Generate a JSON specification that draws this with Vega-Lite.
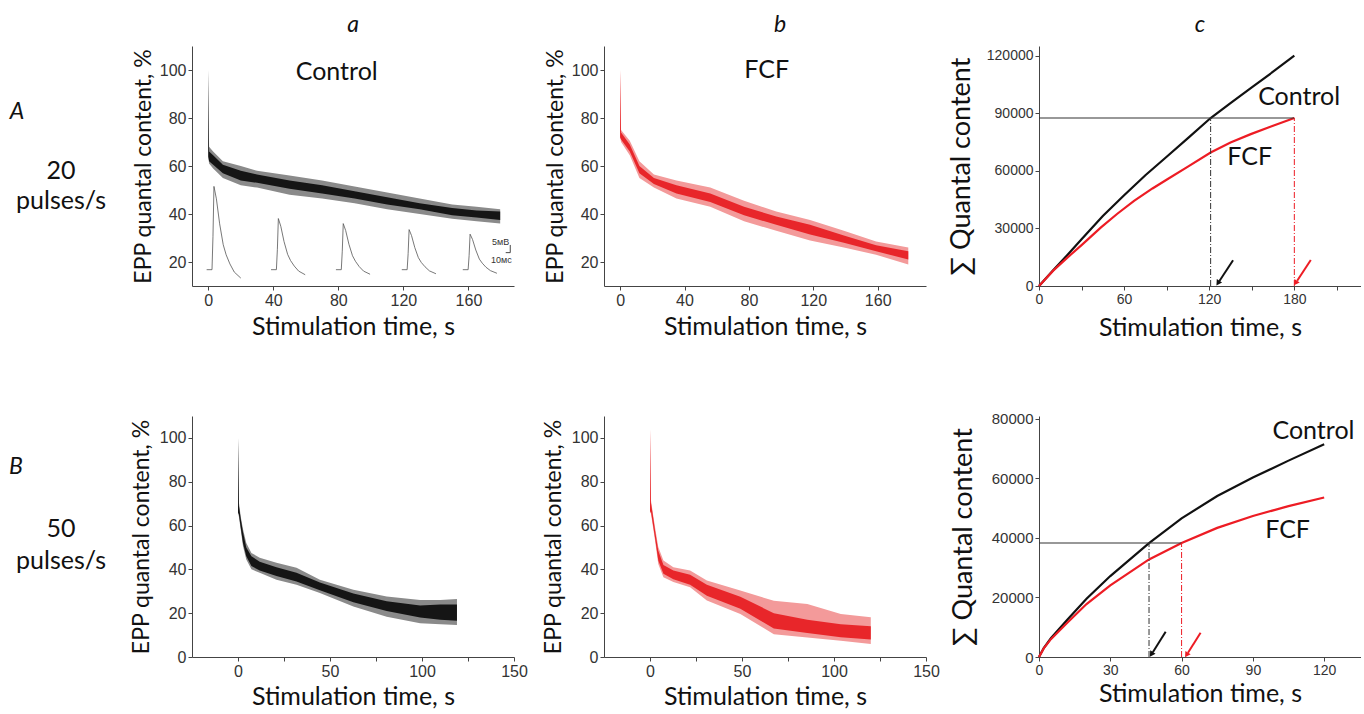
{
"$schema":"https://vega.github.io/schema/vega-lite/v6.json",
"padding":{"left":0,"top":14,"right":0,"bottom":0},
"config":{
 "font":"Lato",
 "view":{"stroke":null},
 "axis":{"domainColor":"#444444","tickColor":"#444444","labelColor":"#333333","labelFont":"Liberation Sans","labelFontSize":16,"titleFont":"Lato","titleFontWeight":"normal","titleColor":"#111111","grid":false,"tickSize":4,"labelPadding":2,"labelFlush":false,"labelOverlap":false},
 "title":{"font":"Lato","fontSize":23,"fontStyle":"italic","fontWeight":"normal","color":"#111111","anchor":"middle","frame":"group","offset":9}
},
"datasets":{
 "aa":[
  {"t":0,"lo":64,"hi":100,"clo":64,"chi":100},
  {"t":0.5,"lo":61,"hi":68,"clo":62,"chi":66},
  {"t":3,"lo":59,"hi":66,"clo":60.5,"chi":64.5},
  {"t":9,"lo":55,"hi":62,"clo":57,"chi":60.5},
  {"t":20,"lo":52,"hi":60,"clo":54,"chi":58},
  {"t":30,"lo":51,"hi":58,"clo":53,"chi":56.5},
  {"t":50,"lo":48,"hi":56,"clo":50.5,"chi":54},
  {"t":70,"lo":46.5,"hi":54,"clo":48.5,"chi":52},
  {"t":90,"lo":44.5,"hi":51.5,"clo":46.5,"chi":49.5},
  {"t":110,"lo":42,"hi":49,"clo":44,"chi":47},
  {"t":130,"lo":40,"hi":46.5,"clo":42,"chi":44.5},
  {"t":150,"lo":38,"hi":44,"clo":39.5,"chi":42.5},
  {"t":165,"lo":37,"hi":43,"clo":38.5,"chi":41.5},
  {"t":179.5,"lo":36,"hi":42,"clo":37.5,"chi":41}
 ],
 "ab":[
  {"t":0,"lo":72,"hi":100,"clo":72,"chi":100},
  {"t":0.6,"lo":70,"hi":75,"clo":71,"chi":74},
  {"t":6,"lo":64.5,"hi":70.5,"clo":66,"chi":69},
  {"t":12,"lo":55,"hi":62,"clo":57,"chi":60},
  {"t":21,"lo":51,"hi":56.5,"clo":52.5,"chi":55},
  {"t":35,"lo":46.5,"hi":54,"clo":48.5,"chi":52},
  {"t":56,"lo":43,"hi":51,"clo":45,"chi":48.5},
  {"t":77,"lo":37,"hi":45.5,"clo":39.5,"chi":43},
  {"t":97,"lo":33,"hi":41,"clo":35.5,"chi":39},
  {"t":118,"lo":29,"hi":37.5,"clo":31.5,"chi":35.5},
  {"t":139,"lo":26,"hi":33,"clo":28,"chi":31},
  {"t":159,"lo":23,"hi":28.5,"clo":24.5,"chi":27},
  {"t":179,"lo":19,"hi":26,"clo":21,"chi":24.5}
 ],
 "ba":[
  {"t":0,"lo":66,"hi":100,"clo":66,"chi":100},
  {"t":0.5,"lo":64,"hi":70.5,"clo":65,"chi":69},
  {"t":1.5,"lo":58,"hi":64,"clo":59,"chi":63},
  {"t":2.7,"lo":50.7,"hi":58.4,"clo":52,"chi":57},
  {"t":4.5,"lo":44.5,"hi":52,"clo":46,"chi":50},
  {"t":7.3,"lo":40,"hi":47.5,"clo":41.5,"chi":46},
  {"t":11.8,"lo":38.4,"hi":45.3,"clo":39.5,"chi":43.5},
  {"t":20.9,"lo":35.3,"hi":43,"clo":37,"chi":41},
  {"t":31.8,"lo":33,"hi":40.7,"clo":34.5,"chi":38.5},
  {"t":44.5,"lo":29.2,"hi":35.3,"clo":30.5,"chi":34},
  {"t":62.7,"lo":23,"hi":30.7,"clo":25,"chi":29},
  {"t":80.8,"lo":18.4,"hi":27.6,"clo":21,"chi":25.5},
  {"t":99,"lo":15.4,"hi":26,"clo":18,"chi":23.5},
  {"t":110,"lo":15,"hi":26,"clo":17,"chi":24},
  {"t":119,"lo":14.6,"hi":26.5,"clo":16.5,"chi":24}
 ],
 "bb":[
  {"t":0,"lo":66,"hi":104,"clo":66,"chi":104},
  {"t":0.5,"lo":65.5,"hi":71.7,"clo":66.5,"chi":70.5},
  {"t":1.5,"lo":60,"hi":66,"clo":61,"chi":65},
  {"t":2.7,"lo":53.3,"hi":59.4,"clo":54.5,"chi":58},
  {"t":4.5,"lo":42.5,"hi":50.2,"clo":44,"chi":48.5},
  {"t":7.3,"lo":36.4,"hi":44.1,"clo":38,"chi":42},
  {"t":12.7,"lo":34.2,"hi":41,"clo":35.5,"chi":39.5},
  {"t":21.8,"lo":31.8,"hi":39.5,"clo":33,"chi":37.5},
  {"t":30.9,"lo":25.8,"hi":34.9,"clo":28,"chi":33},
  {"t":49.1,"lo":19.6,"hi":30.3,"clo":22,"chi":27.5},
  {"t":67.3,"lo":10.4,"hi":25.7,"clo":13,"chi":20},
  {"t":85.5,"lo":8.9,"hi":24.2,"clo":11,"chi":17},
  {"t":103.7,"lo":7.4,"hi":19.6,"clo":9,"chi":15},
  {"t":120,"lo":5.9,"hi":18.1,"clo":8,"chi":14}
 ],
 "epp":[
  {"k":1,"t":-1,"v":16.8},{"k":1,"t":2.3,"v":16.8},{"k":1,"t":2.9,"v":30.7},{"k":1,"t":3.5,"v":51.5},{"k":1,"t":5,"v":46.3},{"k":1,"t":7,"v":35.9},{"k":1,"t":9.2,"v":27.2},{"k":1,"t":11,"v":23},{"k":1,"t":13.3,"v":19.2},{"k":1,"t":16,"v":15.8},{"k":1,"t":20,"v":13.3},
  {"k":2,"t":38.6,"v":16.8},{"k":2,"t":41.9,"v":16.8},{"k":2,"t":42.5,"v":25.3},{"k":2,"t":43.1,"v":38.1},{"k":2,"t":44.6,"v":34.9},{"k":2,"t":46.6,"v":28.5},{"k":2,"t":48.8,"v":23.2},{"k":2,"t":50.6,"v":20.6},{"k":2,"t":52.9,"v":18.3},{"k":2,"t":55.6,"v":16.2},{"k":2,"t":59.6,"v":14.7},
  {"k":3,"t":78.5,"v":16.8},{"k":3,"t":81.8,"v":16.8},{"k":3,"t":82.4,"v":24.5},{"k":3,"t":83,"v":36},{"k":3,"t":84.5,"v":33.1},{"k":3,"t":86.5,"v":27.4},{"k":3,"t":88.7,"v":22.6},{"k":3,"t":90.5,"v":20.3},{"k":3,"t":92.8,"v":18.1},{"k":3,"t":95.5,"v":16.2},{"k":3,"t":99.5,"v":14.9},
  {"k":4,"t":119,"v":16.8},{"k":4,"t":122.3,"v":16.8},{"k":4,"t":122.9,"v":23.5},{"k":4,"t":123.5,"v":33.5},{"k":4,"t":125,"v":31},{"k":4,"t":127,"v":26},{"k":4,"t":129.2,"v":21.8},{"k":4,"t":131,"v":19.8},{"k":4,"t":133.3,"v":18},{"k":4,"t":136,"v":16.3},{"k":4,"t":140,"v":15.1},
  {"k":5,"t":156.5,"v":16.8},{"k":5,"t":159.8,"v":16.8},{"k":5,"t":160.4,"v":22.7},{"k":5,"t":161,"v":31.6},{"k":5,"t":162.5,"v":29.4},{"k":5,"t":164.5,"v":25},{"k":5,"t":166.7,"v":21.2},{"k":5,"t":168.5,"v":19.5},{"k":5,"t":170.8,"v":17.8},{"k":5,"t":173.5,"v":16.4},{"k":5,"t":177.5,"v":15.3}
 ],
 "ac":[
  {"s":"Control","t":0,"q":0},{"s":"Control","t":10,"q":8200},{"s":"Control","t":20,"q":16200},{"s":"Control","t":30,"q":24400},{"s":"Control","t":45,"q":36500},{"s":"Control","t":60,"q":47300},{"s":"Control","t":75,"q":57700},{"s":"Control","t":90,"q":67300},{"s":"Control","t":105,"q":77000},{"s":"Control","t":121,"q":87500},{"s":"Control","t":135,"q":95300},{"s":"Control","t":150,"q":103400},{"s":"Control","t":165,"q":111600},{"s":"Control","t":180,"q":120000},
  {"s":"FCF","t":0,"q":0},{"s":"FCF","t":10,"q":8000},{"s":"FCF","t":20,"q":14800},{"s":"FCF","t":30,"q":21300},{"s":"FCF","t":43.5,"q":30400},{"s":"FCF","t":55,"q":37500},{"s":"FCF","t":67,"q":44300},{"s":"FCF","t":80,"q":50800},{"s":"FCF","t":90.5,"q":55600},{"s":"FCF","t":105,"q":62200},{"s":"FCF","t":121,"q":69500},{"s":"FCF","t":135,"q":74700},{"s":"FCF","t":149.3,"q":79100},{"s":"FCF","t":165,"q":83500},{"s":"FCF","t":180,"q":87500}
 ],
 "bc":[
  {"s":"Control","t":0,"q":0},{"s":"Control","t":2,"q":3000},{"s":"Control","t":5,"q":6300},{"s":"Control","t":12,"q":12600},{"s":"Control","t":20,"q":19600},{"s":"Control","t":30,"q":27200},{"s":"Control","t":46.3,"q":38300},{"s":"Control","t":60,"q":46600},{"s":"Control","t":75,"q":54100},{"s":"Control","t":90,"q":60300},{"s":"Control","t":105,"q":66000},{"s":"Control","t":120,"q":71500},
  {"s":"FCF","t":0,"q":0},{"s":"FCF","t":2,"q":2900},{"s":"FCF","t":5,"q":6000},{"s":"FCF","t":12,"q":11600},{"s":"FCF","t":20,"q":17800},{"s":"FCF","t":30,"q":24100},{"s":"FCF","t":46.3,"q":32800},{"s":"FCF","t":60,"q":38300},{"s":"FCF","t":75,"q":43400},{"s":"FCF","t":90,"q":47400},{"s":"FCF","t":105,"q":50700},{"s":"FCF","t":120,"q":53600}
 ],
 "blank":[{"e":""}]
},
"columns":6,
"spacing":{"row":130,"column":0},
"bounds":"flush",
"align":"none",
"concat":[
   {"width":189,"height":240,
    "layer":[
     {"data":{"values":[{"lx":17,"ly":82.4,"lab":"A"}]},"mark":{"type":"text","font":"Lato","fontSize":23,"fontStyle":"italic","color":"#111111"},
      "encoding":{"x":{"field":"lx","type":"quantitative","scale":{"domain":[0,189],"nice":false,"zero":false},"axis":null},"y":{"field":"ly","type":"quantitative","scale":{"domain":[10,110],"nice":false,"zero":false},"axis":null},"text":{"field":"lab"}}},
     {"data":{"values":[{"lx":61,"ly":57.9,"lab":"20"},{"lx":61,"ly":45.4,"lab":"pulses/s"}]},"mark":{"type":"text","font":"Lato","fontSize":25,"color":"#111111"},
      "encoding":{"x":{"field":"lx","type":"quantitative","scale":{"domain":[0,189],"nice":false,"zero":false},"axis":null},"y":{"field":"ly","type":"quantitative","scale":{"domain":[10,110],"nice":false,"zero":false},"axis":null},"text":{"field":"lab"}}}
    ]},
   {"width":322,"height":240,"title":{"text":"a"},
    "layer":[
     {"data":{"name":"aa"},"mark":{"type":"area","color":"#8a8a8a"},
      "encoding":{
       "x":{"field":"t","type":"quantitative","scale":{"domain":[-10,188],"nice":false,"zero":false},
            "axis":{"values":[0,20,40,60,80,100,120,140,160,180],"labelExpr":"datum.value % 40 === 0 ? datum.label : ''","title":"Stimulation time, s","titleFontSize":25,"titlePadding":6}},
       "y":{"field":"lo","type":"quantitative","scale":{"domain":[10,110],"nice":false,"zero":false},
            "axis":{"values":[20,40,60,80,100],"title":"EPP quantal content, %","titleFontSize":23,"titlePadding":4}},
       "y2":{"field":"hi"}}},
     {"data":{"name":"aa"},"mark":{"type":"area","color":"#151515"},
      "encoding":{"x":{"field":"t","type":"quantitative"},"y":{"field":"clo","type":"quantitative"},"y2":{"field":"chi"}}},
     {"data":{"name":"epp"},"mark":{"type":"line","color":"#555555","strokeWidth":0.8},
      "encoding":{"x":{"field":"t","type":"quantitative"},"y":{"field":"v","type":"quantitative"},"detail":{"field":"k","type":"nominal"}}},
     {"data":{"values":[{"x":185.7,"y":23.9,"x2":185.7,"y2":27.1},{"x":182.9,"y":23.9,"x2":185.7,"y2":23.9}]},"mark":{"type":"rule","color":"#333333","strokeWidth":0.9},
      "encoding":{"x":{"field":"x","type":"quantitative"},"y":{"field":"y","type":"quantitative"},"x2":{"field":"x2"},"y2":{"field":"y2"}}},
     {"data":{"values":[{"x":179.8,"y":28.3,"txt":"5мВ"},{"x":180.2,"y":20.8,"txt":"10мс"}]},"mark":{"type":"text","font":"Liberation Sans","fontSize":9,"color":"#333333"},
      "encoding":{"x":{"field":"x","type":"quantitative"},"y":{"field":"y","type":"quantitative"},"text":{"field":"txt"}}},
     {"data":{"values":[{"x":79,"y":99.3,"txt":"Control"}]},"mark":{"type":"text","font":"Lato","fontSize":25,"color":"#111111"},
      "encoding":{"x":{"field":"x","type":"quantitative"},"y":{"field":"y","type":"quantitative"},"text":{"field":"txt"}}}
    ]},
   {"width":89,"height":240,"data":{"name":"blank"},"mark":{"type":"text"},"encoding":{"text":{"field":"e"}}},
   {"width":322,"height":240,"title":{"text":"b","dx":15},
    "layer":[
     {"data":{"name":"ab"},"mark":{"type":"area","color":"#f39a9a"},
      "encoding":{
       "x":{"field":"t","type":"quantitative","scale":{"domain":[-10,190],"nice":false,"zero":false},
            "axis":{"values":[0,20,40,60,80,100,120,140,160,180],"labelExpr":"datum.value % 40 === 0 ? datum.label : ''","title":"Stimulation time, s","titleFontSize":25,"titlePadding":6}},
       "y":{"field":"lo","type":"quantitative","scale":{"domain":[10,110],"nice":false,"zero":false},
            "axis":{"values":[20,40,60,80,100],"title":"EPP quantal content, %","titleFontSize":23,"titlePadding":4}},
       "y2":{"field":"hi"}}},
     {"data":{"name":"ab"},"mark":{"type":"area","color":"#e8262a"},
      "encoding":{"x":{"field":"t","type":"quantitative"},"y":{"field":"clo","type":"quantitative"},"y2":{"field":"chi"}}},
     {"data":{"values":[{"x":91,"y":100,"txt":"FCF"}]},"mark":{"type":"text","font":"Lato","fontSize":25,"color":"#111111"},
      "encoding":{"x":{"field":"x","type":"quantitative"},"y":{"field":"y","type":"quantitative"},"text":{"field":"txt"}}}
    ]},
   {"width":113,"height":240,"data":{"name":"blank"},"mark":{"type":"text"},"encoding":{"text":{"field":"e"}}},
   {"width":322,"height":240,"title":{"text":"c"},
    "layer":[
     {"data":{"name":"ac"},"mark":{"type":"line","strokeWidth":2.2},
      "encoding":{
       "x":{"field":"t","type":"quantitative","scale":{"domain":[0,227],"nice":false,"zero":false},
            "axis":{"values":[0,30,60,90,120,150,180,210],"labelExpr":"datum.value % 60 === 0 ? datum.label : ''","title":"Stimulation time, s","titleFontSize":25,"titlePadding":9,"labelFontSize":14}},
       "y":{"field":"q","type":"quantitative","scale":{"domain":[0,125000],"nice":false,"zero":false},
            "axis":{"values":[0,15000,30000,45000,60000,75000,90000,105000,120000],"format":"d","labelExpr":"datum.value % 30000 === 0 ? datum.label : ''","title":"∑ Quantal content","titleFontSize":27,"titlePadding":11,"labelFontSize":14}},
       "color":{"field":"s","type":"nominal","scale":{"domain":["Control","FCF"],"range":["#111111","#ed1c24"]},"legend":null}}},
     {"data":{"values":[{"x":0,"x2":180,"y":87500}]},"mark":{"type":"rule","color":"#333333","strokeWidth":1.1},
      "encoding":{"x":{"field":"x","type":"quantitative"},"x2":{"field":"x2"},"y":{"field":"y","type":"quantitative"}}},
     {"data":{"values":[{"x":121,"y":0,"y2":87500}]},"mark":{"type":"rule","color":"#333333","strokeWidth":1,"strokeDash":[6,2,1,2]},
      "encoding":{"x":{"field":"x","type":"quantitative"},"y":{"field":"y","type":"quantitative"},"y2":{"field":"y2"}}},
     {"data":{"values":[{"x":180,"y":0,"y2":87500}]},"mark":{"type":"rule","color":"#ed1c24","strokeWidth":1,"strokeDash":[6,2,1,2]},
      "encoding":{"x":{"field":"x","type":"quantitative"},"y":{"field":"y","type":"quantitative"},"y2":{"field":"y2"}}},
     {"data":{"values":[{"s":"Control","x":136.8,"y":13400,"x2":127.2,"y2":2600},{"s":"FCF","x":191.6,"y":13560,"x2":182,"y2":2700}]},"mark":{"type":"rule","strokeWidth":2},
      "encoding":{"x":{"field":"x","type":"quantitative"},"y":{"field":"y","type":"quantitative"},"x2":{"field":"x2"},"y2":{"field":"y2"},
       "color":{"field":"s","type":"nominal","legend":null}}},
     {"data":{"values":[{"s":"Control","x":126.5,"y":1900},{"s":"FCF","x":181.2,"y":1950}]},"mark":{"type":"point","shape":"triangle","filled":true,"opacity":1,"size":40,"angle":213},
      "encoding":{"x":{"field":"x","type":"quantitative"},"y":{"field":"y","type":"quantitative"},
       "color":{"field":"s","type":"nominal","legend":null}}},
     {"data":{"values":[{"x":183.4,"y":98300,"txt":"Control"},{"x":148.5,"y":67300,"txt":"FCF"}]},"mark":{"type":"text","font":"Lato","fontSize":25,"color":"#111111"},
      "encoding":{"x":{"field":"x","type":"quantitative"},"y":{"field":"y","type":"quantitative"},"text":{"field":"txt"}}}
    ]},
   {"width":192,"height":241,
    "layer":[
     {"data":{"values":[{"lx":16,"ly":86.5,"lab":"B"}]},"mark":{"type":"text","font":"Lato","fontSize":23,"fontStyle":"italic","color":"#111111"},
      "encoding":{"x":{"field":"lx","type":"quantitative","scale":{"domain":[0,192],"nice":false,"zero":false},"axis":null},"y":{"field":"ly","type":"quantitative","scale":{"domain":[0,110],"nice":false,"zero":false},"axis":null},"text":{"field":"lab"}}},
     {"data":{"values":[{"lx":61,"ly":58.4,"lab":"50"},{"lx":61,"ly":43.8,"lab":"pulses/s"}]},"mark":{"type":"text","font":"Lato","fontSize":25,"color":"#111111"},
      "encoding":{"x":{"field":"lx","type":"quantitative","scale":{"domain":[0,192],"nice":false,"zero":false},"axis":null},"y":{"field":"ly","type":"quantitative","scale":{"domain":[0,110],"nice":false,"zero":false},"axis":null},"text":{"field":"lab"}}}
    ]},
   {"width":322,"height":241,
    "layer":[
     {"data":{"name":"ba"},"mark":{"type":"area","color":"#8a8a8a"},
      "encoding":{
       "x":{"field":"t","type":"quantitative","scale":{"domain":[-25,150],"nice":false,"zero":false},
            "axis":{"values":[0,25,50,75,100,125,150],"labelExpr":"datum.value % 50 === 0 ? datum.label : ''","title":"Stimulation time, s","titleFontSize":25,"titlePadding":5}},
       "y":{"field":"lo","type":"quantitative","scale":{"domain":[0,110],"nice":false,"zero":false},
            "axis":{"values":[0,10,20,30,40,50,60,70,80,90,100,110],"labelExpr":"datum.value % 20 === 0 && datum.value <= 100 ? datum.label : ''","title":"EPP quantal content, %","titleFontSize":23,"titlePadding":6}},
       "y2":{"field":"hi"}}},
     {"data":{"name":"ba"},"mark":{"type":"area","color":"#151515"},
      "encoding":{"x":{"field":"t","type":"quantitative"},"y":{"field":"clo","type":"quantitative"},"y2":{"field":"chi"}}}
    ]},
   {"width":90,"height":241,"data":{"name":"blank"},"mark":{"type":"text"},"encoding":{"text":{"field":"e"}}},
   {"width":322,"height":241,
    "layer":[
     {"data":{"name":"bb"},"mark":{"type":"area","color":"#f39a9a"},
      "encoding":{
       "x":{"field":"t","type":"quantitative","scale":{"domain":[-25,150],"nice":false,"zero":false},
            "axis":{"values":[0,25,50,75,100,125,150],"labelExpr":"datum.value % 50 === 0 ? datum.label : ''","title":"Stimulation time, s","titleFontSize":25,"titlePadding":5}},
       "y":{"field":"lo","type":"quantitative","scale":{"domain":[0,110],"nice":false,"zero":false},
            "axis":{"values":[0,10,20,30,40,50,60,70,80,90,100,110],"labelExpr":"datum.value % 20 === 0 && datum.value <= 100 ? datum.label : ''","title":"EPP quantal content, %","titleFontSize":23,"titlePadding":6}},
       "y2":{"field":"hi"}}},
     {"data":{"name":"bb"},"mark":{"type":"area","color":"#e8262a"},
      "encoding":{"x":{"field":"t","type":"quantitative"},"y":{"field":"clo","type":"quantitative"},"y2":{"field":"chi"}}}
    ]},
   {"width":109,"height":241,"data":{"name":"blank"},"mark":{"type":"text"},"encoding":{"text":{"field":"e"}}},
   {"width":322,"height":241,
    "layer":[
     {"data":{"name":"bc"},"mark":{"type":"line","strokeWidth":2.2},
      "encoding":{
       "x":{"field":"t","type":"quantitative","scale":{"domain":[0,135.5],"nice":false,"zero":false},
            "axis":{"values":[0,15,30,45,60,75,90,105,120,135],"labelExpr":"datum.value % 30 === 0 ? datum.label : ''","title":"Stimulation time, s","titleFontSize":25,"titlePadding":4,"labelFontSize":14}},
       "y":{"field":"q","type":"quantitative","scale":{"domain":[0,81000],"nice":false,"zero":false},
            "axis":{"values":[0,10000,20000,30000,40000,50000,60000,70000,80000],"format":"d","labelExpr":"datum.value % 20000 === 0 ? datum.label : ''","title":"∑ Quantal content","titleFontSize":27,"titlePadding":14,"labelFontSize":15}},
       "color":{"field":"s","type":"nominal","scale":{"domain":["Control","FCF"],"range":["#111111","#ed1c24"]},"legend":null}}},
     {"data":{"values":[{"x":0,"x2":60,"y":38300}]},"mark":{"type":"rule","color":"#333333","strokeWidth":1.1},
      "encoding":{"x":{"field":"x","type":"quantitative"},"x2":{"field":"x2"},"y":{"field":"y","type":"quantitative"}}},
     {"data":{"values":[{"x":46.3,"y":0,"y2":38300}]},"mark":{"type":"rule","color":"#333333","strokeWidth":1,"strokeDash":[6,2,1,2]},
      "encoding":{"x":{"field":"x","type":"quantitative"},"y":{"field":"y","type":"quantitative"},"y2":{"field":"y2"}}},
     {"data":{"values":[{"x":60,"y":0,"y2":38300}]},"mark":{"type":"rule","color":"#ed1c24","strokeWidth":1,"strokeDash":[6,2,1,2]},
      "encoding":{"x":{"field":"x","type":"quantitative"},"y":{"field":"y","type":"quantitative"},"y2":{"field":"y2"}}},
     {"data":{"values":[{"s":"Control","x":53.3,"y":8510,"x2":47.9,"y2":1600},{"s":"FCF","x":68,"y":8180,"x2":62.7,"y2":1400}]},"mark":{"type":"rule","strokeWidth":2},
      "encoding":{"x":{"field":"x","type":"quantitative"},"y":{"field":"y","type":"quantitative"},"x2":{"field":"x2"},"y2":{"field":"y2"},
       "color":{"field":"s","type":"nominal","legend":null}}},
     {"data":{"values":[{"s":"Control","x":47.5,"y":1150},{"s":"FCF","x":62.3,"y":950}]},"mark":{"type":"point","shape":"triangle","filled":true,"opacity":1,"size":40,"angle":213},
      "encoding":{"x":{"field":"x","type":"quantitative"},"y":{"field":"y","type":"quantitative"},
       "color":{"field":"s","type":"nominal","legend":null}}},
     {"data":{"values":[{"x":115.5,"y":76100,"txt":"Control"},{"x":104.6,"y":42640,"txt":"FCF"}]},"mark":{"type":"text","font":"Lato","fontSize":25,"color":"#111111"},
      "encoding":{"x":{"field":"x","type":"quantitative"},"y":{"field":"y","type":"quantitative"},"text":{"field":"txt"}}}
    ]}
]
}
